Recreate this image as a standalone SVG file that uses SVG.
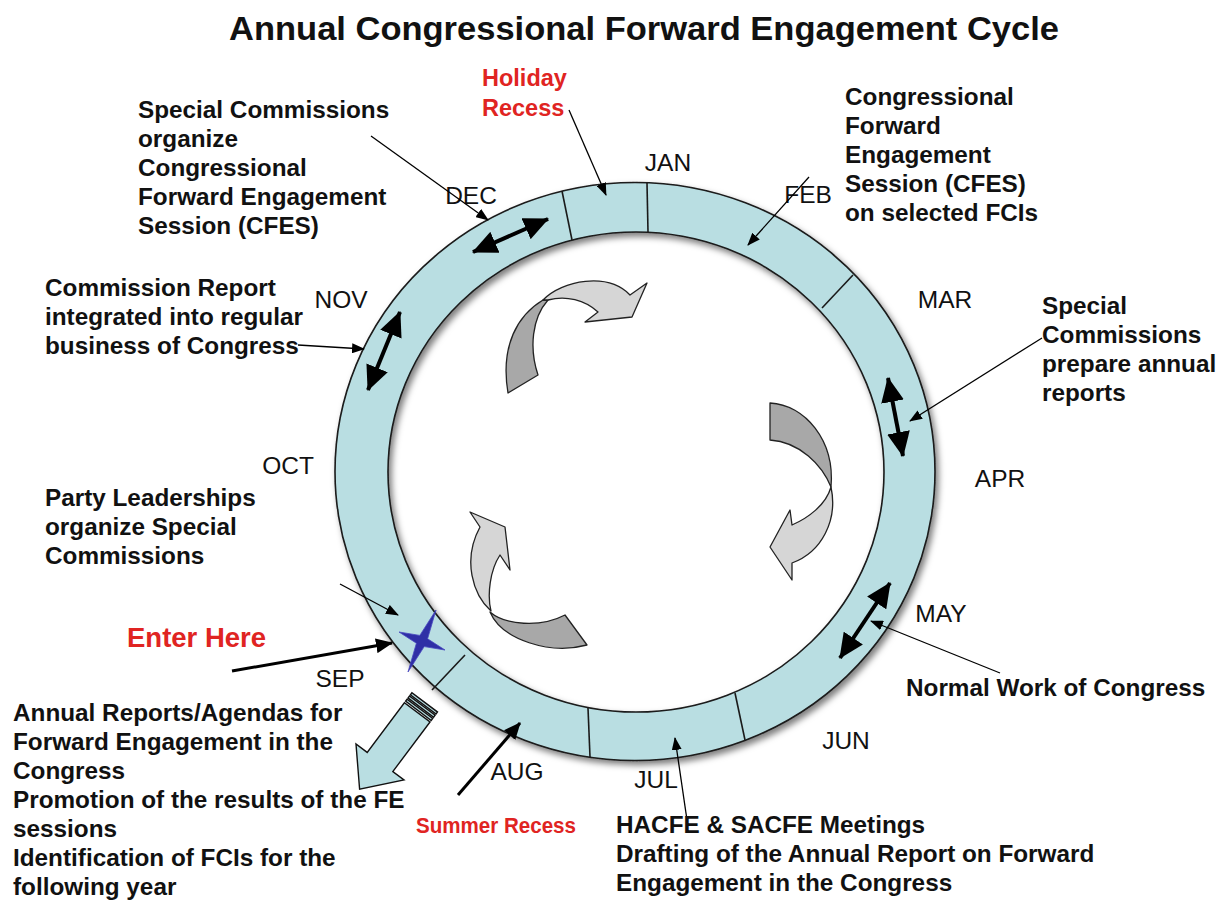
<svg xmlns="http://www.w3.org/2000/svg" width="1222" height="901" viewBox="0 0 1222 901">
  <defs>
    <style>
      .title { font: bold 34px "Liberation Sans", Arial, sans-serif; fill: #111; }
      .lbl { font: bold 24.3px "Liberation Sans", Arial, sans-serif; fill: #111; }
      .red { fill: #E02422; }
      .mon { font: 24.5px "Liberation Sans", Arial, sans-serif; fill: #111; text-anchor: middle; }
      .ring { fill: #B9DEE2; stroke: #1a1a1a; stroke-width: 1.6; fill-rule: evenodd; }
      .sep { stroke: #1a1a1a; stroke-width: 1.6; }
      .dbl { stroke: #000; stroke-width: 4; fill: none; marker-start: url(#bigHead); marker-end: url(#bigHead); }
      .thin { stroke: #000; stroke-width: 1.3; fill: none; marker-end: url(#thinHead); }
      .thick { stroke: #000; stroke-width: 3; fill: none; marker-end: url(#thickHead); }
      .cdark { fill: #A8A8A8; stroke: #222; stroke-width: 1.3; stroke-linejoin: round; }
      .clight { fill: #D6D6D6; stroke: #222; stroke-width: 1.3; stroke-linejoin: round; }
      .blk { fill: #B9DEE2; stroke: #111; stroke-width: 1.4; stroke-linejoin: miter; }
    </style>
    <marker id="bigHead" markerUnits="userSpaceOnUse" viewBox="0 0 25 23" refX="24" refY="11.5" markerWidth="25" markerHeight="23" orient="auto-start-reverse">
      <path d="M0,0 L25,11.5 L0,23 Z" fill="#000"/>
    </marker>
    <marker id="thinHead" markerUnits="userSpaceOnUse" viewBox="0 0 13 10" refX="12" refY="5" markerWidth="13" markerHeight="10" orient="auto">
      <path d="M0,0 L13,5 L0,10 Z" fill="#000"/>
    </marker>
    <marker id="thickHead" markerUnits="userSpaceOnUse" viewBox="0 0 17 15" refX="16" refY="7.5" markerWidth="17" markerHeight="15" orient="auto">
      <path d="M0,0 L17,7.5 L0,15 Z" fill="#000"/>
    </marker>
    <filter id="shadow" x="-10%" y="-10%" width="120%" height="120%">
      <feDropShadow dx="3" dy="4" stdDeviation="3" flood-color="#000" flood-opacity="0.5"/>
    </filter>
  </defs>

  <rect width="1222" height="901" fill="#fff"/>

  <text class="title" x="644" y="40" text-anchor="middle" textLength="830" lengthAdjust="spacingAndGlyphs">Annual Congressional Forward Engagement Cycle</text>

  <!-- month ring -->
  <g id="ring">
    <path class="ring" filter="url(#shadow)" d="M335,471.5 A300,289 0 1,0 935,471.5 A300,289 0 1,0 335,471.5 Z M388,472 A248,240 0 1,1 884,472 A248,240 0 1,1 388,472 Z"/>
    <line class="sep" x1="562" y1="191" x2="572" y2="240"/>
    <line class="sep" x1="647" y1="183" x2="648" y2="232"/>
    <line class="sep" x1="853" y1="275" x2="822" y2="308"/>
    <line class="sep" x1="465" y1="655" x2="432" y2="690"/>
    <line class="sep" x1="588" y1="708" x2="590" y2="757"/>
    <line class="sep" x1="735" y1="693" x2="745" y2="740"/>
  </g>

  <g id="months">
    <text class="mon" x="668" y="171">JAN</text>
    <text class="mon" x="808" y="203">FEB</text>
    <text class="mon" x="945" y="308">MAR</text>
    <text class="mon" x="1000" y="487">APR</text>
    <text class="mon" x="941" y="622">MAY</text>
    <text class="mon" x="846" y="749">JUN</text>
    <text class="mon" x="656" y="788">JUL</text>
    <text class="mon" x="517" y="780">AUG</text>
    <text class="mon" x="340" y="687">SEP</text>
    <text class="mon" x="288" y="474">OCT</text>
    <text class="mon" x="341" y="308">NOV</text>
    <text class="mon" x="471" y="204">DEC</text>
  </g>

  <!-- circulating arrows inside the ring -->
  <g id="cycle-top">
    <path class="cdark" d="M543,300 C518,315 500,345 508,393 L538,375 C529,348 532,318 548,300 Z"/>
    <path class="clight" d="M543,300 C562,280 608,272 630,295 L647,283 L632,317 L585,322 L598,312 C585,300 566,295 548,300 Z"/>
  </g>
  <g id="cycle-right">
    <path class="cdark" d="M770,403 C805,405 835,440 831,487 C822,465 800,442 770,440 Z"/>
    <path class="clight" d="M831,487 C838,520 822,552 792,563 L792,580 L770,547 L790,510 L792,525 C808,518 826,505 831,487 Z"/>
  </g>
  <g id="cycle-left">
    <path class="cdark" d="M490,612 C502,640 550,655 587,645 L565,615 C540,628 505,625 490,612 Z"/>
    <path class="clight" d="M470,512 L505,527 L510,570 L500,555 C490,570 487,595 491,611 C473,595 462,560 480,527 Z"/>
  </g>

  <!-- double-headed activity arrows on the ring -->
  <g id="activity-arrows">
    <line class="dbl" x1="473" y1="252" x2="548" y2="219"/>
    <line class="dbl" x1="400" y1="312" x2="368" y2="390"/>
    <line class="dbl" x1="888" y1="378" x2="903" y2="456"/>
    <line class="dbl" x1="890" y1="583" x2="840" y2="658"/>
  </g>

  <!-- entry star -->
  <g id="star">
    <polygon fill="#2F2FA6" stroke="#4848C0" stroke-width="0.8" points="436,610 427.6,638.8 445,650 424.2,646.6 408,672 416.4,643.2 399,632 419.8,635.4"/>
  </g>

  <!-- output arrow -->
  <g id="output-arrow" transform="translate(380,762) rotate(126.87)">
    <path class="blk" d="M-62,-16 L0,-16 L0,-30 L34,0 L0,30 L0,16 L-62,16 Z"/>
    <rect class="blk" x="-66.5" y="-16" width="2.5" height="32"/>
    <rect class="blk" x="-70.5" y="-16" width="2.5" height="32"/>
    <rect class="blk" x="-74.5" y="-16" width="2.5" height="32"/>
  </g>

  <!-- connectors -->
  <g id="connectors">
    <line class="thin" x1="569" y1="110" x2="606" y2="195"/>
    <line class="thin" x1="371" y1="136" x2="488" y2="220"/>
    <line class="thin" x1="809" y1="177" x2="748" y2="245"/>
    <line class="thin" x1="298" y1="345" x2="364" y2="349"/>
    <line class="thin" x1="1042" y1="338" x2="910" y2="421"/>
    <line class="thin" x1="1000" y1="673" x2="871" y2="621"/>
    <line class="thin" x1="340" y1="584" x2="398" y2="615"/>
    <line class="thin" x1="687" y1="820" x2="675" y2="738"/>
    <line class="thick" x1="232" y1="671" x2="392" y2="643"/>
    <line class="thick" x1="458" y1="795" x2="520" y2="723"/>
  </g>

  <!-- labels -->
  <g id="holiday-recess">
    <text class="lbl red" x="482" y="86" style="font-size:23.5px">Holiday</text>
    <text class="lbl red" x="482" y="116" style="font-size:23.5px">Recess</text>
  </g>
  <g id="organize-cfes">
    <text class="lbl" x="138" y="118">Special Commissions</text>
    <text class="lbl" x="138" y="147">organize</text>
    <text class="lbl" x="138" y="176">Congressional</text>
    <text class="lbl" x="138" y="205">Forward Engagement</text>
    <text class="lbl" x="138" y="234">Session (CFES)</text>
  </g>
  <g id="cfes-session">
    <text class="lbl" x="845" y="105">Congressional</text>
    <text class="lbl" x="845" y="134">Forward</text>
    <text class="lbl" x="845" y="163">Engagement</text>
    <text class="lbl" x="845" y="192">Session (CFES)</text>
    <text class="lbl" x="845" y="221">on selected FCIs</text>
  </g>
  <g id="commission-report">
    <text class="lbl" x="45" y="296">Commission Report</text>
    <text class="lbl" x="45" y="325">integrated into regular</text>
    <text class="lbl" x="45" y="354">business of Congress</text>
  </g>
  <g id="annual-reports-prep">
    <text class="lbl" x="1042" y="314">Special</text>
    <text class="lbl" x="1042" y="343">Commissions</text>
    <text class="lbl" x="1042" y="372">prepare annual</text>
    <text class="lbl" x="1042" y="401">reports</text>
  </g>
  <g id="party-leaderships">
    <text class="lbl" x="45" y="506">Party Leaderships</text>
    <text class="lbl" x="45" y="535">organize Special</text>
    <text class="lbl" x="45" y="564">Commissions</text>
  </g>
  <g id="enter-here">
    <text class="lbl red" x="127" y="647" style="font-size:27.5px">Enter Here</text>
  </g>
  <g id="normal-work">
    <text class="lbl" x="906" y="696">Normal Work of Congress</text>
  </g>
  <g id="outputs">
    <text class="lbl" x="13" y="721">Annual Reports/Agendas for</text>
    <text class="lbl" x="13" y="750">Forward Engagement in the</text>
    <text class="lbl" x="13" y="779">Congress</text>
    <text class="lbl" x="13" y="808">Promotion of the results of the FE</text>
    <text class="lbl" x="13" y="837">sessions</text>
    <text class="lbl" x="13" y="866">Identification of FCIs for the</text>
    <text class="lbl" x="13" y="895">following year</text>
  </g>
  <g id="summer-recess">
    <text class="lbl red" x="416" y="833" style="font-size:22.5px" textLength="160" lengthAdjust="spacingAndGlyphs">Summer Recess</text>
  </g>
  <g id="meetings">
    <text class="lbl" x="616" y="833">HACFE &amp; SACFE Meetings</text>
    <text class="lbl" x="616" y="862">Drafting of the Annual Report on Forward</text>
    <text class="lbl" x="616" y="891">Engagement in the Congress</text>
  </g>
</svg>
